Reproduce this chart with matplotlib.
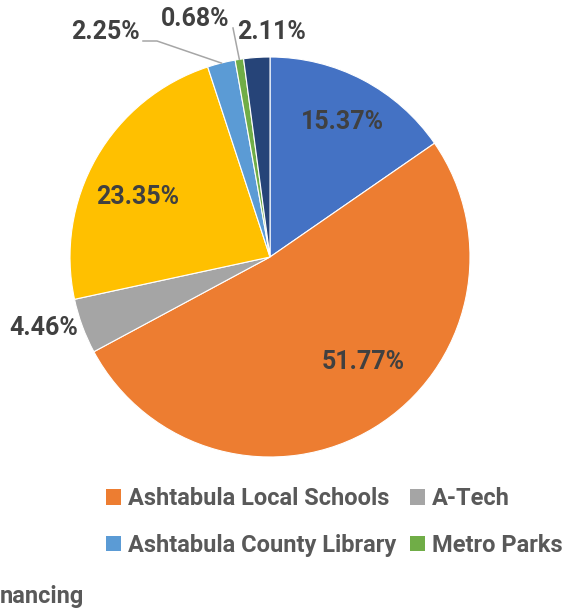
import matplotlib.pyplot as plt
from matplotlib import patches
import numpy as np

# slice shares, clockwise from 12 o'clock
shares = [15.37, 51.77, 4.46, 23.35, 2.25, 0.68, 2.11]
colors = ['#4472C4', '#ED7D31', '#A5A5A5', '#FFC000', '#5B9BD5', '#70AD47', '#264478']
pct_labels = ['15.37%', '51.77%', '4.46%', '23.35%', '2.25%', '0.68%', '2.11%']

legend_names = ['Ashtabula Local Schools', 'A-Tech',
                'Ashtabula County Library', 'Metro Parks']
legend_index = [1, 2, 4, 5]

FONT = 'Roboto'
TXT = '#404040'
LEG = '#595959'

fig = plt.figure(figsize=(5.71, 6.12), dpi=100)
W, H = 571, 612
cx, cy, r = 270, 257, 200
ax = fig.add_axes([(cx - r) / W, (H - cy - r) / H, 2 * r / W, 2 * r / H])

wedges, _ = ax.pie(shares, colors=colors, startangle=90, counterclock=False,
                   radius=1, wedgeprops=dict(edgecolor='white', linewidth=0.8))
ax.set_xlim(-1, 1)
ax.set_ylim(-1, 1)
ax.set_aspect('auto')
ax.axis('off')

# label placement: (radius, angle) in pie units
label_pos = [(0.767, 61.6), (0.70, -48.5), (1.187, 197.4), (0.725, 155.6),
             (1.395, 126.25), (1.248, 107.5), (1.125, 89.5)]
for txt, (lr, la) in zip(pct_labels, label_pos):
    a = np.radians(la)
    ax.text(lr * np.cos(a), lr * np.sin(a), txt, ha='center', va='center',
            fontsize=18, fontweight='bold', family=FONT, color=TXT, clip_on=False)

# leader lines for the two thin slices
leaders = [(wedges[4], [(-0.635, 1.08), (-0.565, 1.08)]),
           (wedges[5], [(-0.185, 1.145)])]
for w, pts in leaders:
    th = np.radians((w.theta1 + w.theta2) / 2)
    pts = pts + [(np.cos(th), np.sin(th))]
    ax.plot([p[0] for p in pts], [p[1] for p in pts], color='#A6A6A6', lw=1.1,
            clip_on=False)

handles = [patches.Patch(facecolor=colors[i], edgecolor='none') for i in legend_index]
order = [0, 2, 1, 3]
leg = fig.legend([handles[i] for i in order], [legend_names[i] for i in order],
                 loc='center left', bbox_to_anchor=(106 / W, 1 - 522 / H), ncol=2,
                 frameon=False, borderpad=0, borderaxespad=0,
                 handlelength=0.63, handleheight=0.63,
                 handletextpad=0.3, columnspacing=0.6, labelspacing=1.0,
                 prop=dict(family=FONT, weight='bold', size=17))
for t in leg.get_texts():
    t.set_color(LEG)

fig.text(0, 1 - 597 / H, 'nancing', ha='left', va='center', family=FONT,
         fontweight='bold', fontsize=17, color=LEG)

fig.savefig('out.png', dpi=100)
